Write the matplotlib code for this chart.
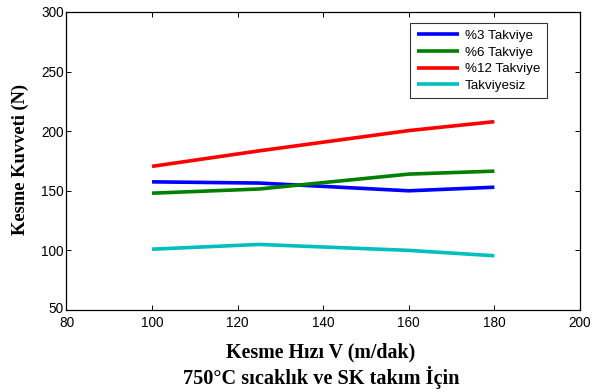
import matplotlib
matplotlib.use("Agg")
import matplotlib.pyplot as plt
from matplotlib.transforms import ScaledTranslation

# Cutting speed (m/dak) and cutting force (N) per reinforcement ratio
speeds = [100, 125, 160, 180]
force_3 = [157.5, 156.5, 150, 153]
force_6 = [148, 151.5, 164, 166.5]
force_12 = [170.5, 183.5, 200.5, 208]
force_none = [101, 105, 100, 95.5]
series_labels = ["%3 Takviye", "%6 Takviye", "%12 Takviye", "Takviyesiz"]
series_colors = ["#0000ff", "#008000", "#ff0000", "#00bfbf"]

x_ticks = [80, 100, 120, 140, 160, 180, 200]
y_ticks = [50, 100, 150, 200, 250, 300]

fig = plt.figure(figsize=(5.93, 3.92), dpi=100)
ax = fig.add_axes([0.1121, 0.2092, 0.8659, 0.7602])

for vals, lab, col in zip([force_3, force_6, force_12, force_none],
                          series_labels, series_colors):
    ax.plot(speeds, vals, color=col, lw=2.6, label=lab, solid_capstyle="butt")

ax.set_xlim(80, 200)
ax.set_ylim(50, 300)
ax.set_xticks(x_ticks)
ax.set_yticks(y_ticks)
tick_font = {"family": "Liberation Sans", "size": 9.8}
ax.set_xticklabels([str(t) for t in x_ticks], fontdict=tick_font)
ax.set_yticklabels([str(t) for t in y_ticks], fontdict=tick_font)
ax.tick_params(direction="in", top=True, right=True, length=3.5, width=0.7, pad=2)
ax.tick_params(axis="x", pad=4)
for s in ax.spines.values():
    s.set_linewidth(0.9)

# nudge the lowest y label up a little so it clears the first x label
lowest = ax.get_yticklabels()[0]
lowest.set_transform(lowest.get_transform() + ScaledTranslation(0, 2 / 72, fig.dpi_scale_trans))

leg = ax.legend(loc="upper right", bbox_to_anchor=(0.935, 0.963),
                prop={"family": "Liberation Sans", "size": 9.6},
                frameon=True, fancybox=False, edgecolor="black",
                handlelength=3.2, handletextpad=0.4, borderpad=0.5,
                labelspacing=0.32, borderaxespad=0.0)
leg.get_frame().set_linewidth(0.8)

fig.text(0.034, 0.592, "Kesme Kuvveti (N)", rotation=90, ha="center", va="center",
         family="Liberation Serif", weight="bold", fontsize=13.3)
fig.text(0.541, 0.1, "Kesme Hızı V (m/dak)", ha="center", va="center",
         family="Liberation Serif", weight="bold", fontsize=14.4)
fig.text(0.541, 0.036, "750°C sıcaklık ve SK takım İçin", ha="center", va="center",
         family="Liberation Serif", weight="bold", fontsize=14.6)

fig.savefig("out.png", dpi=100)
